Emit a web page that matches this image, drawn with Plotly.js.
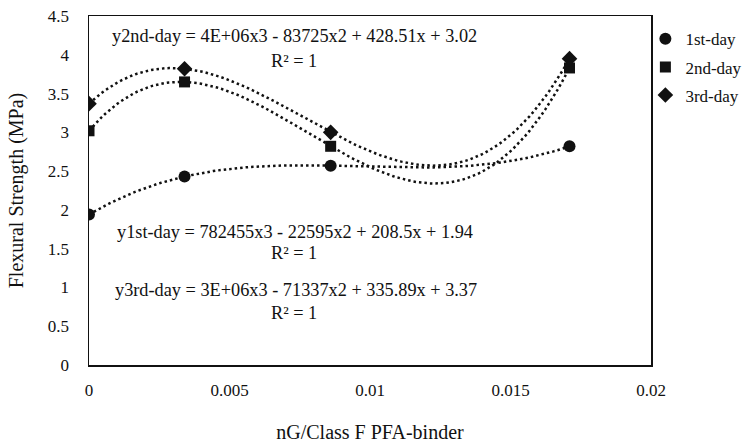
<!DOCTYPE html>
<html><head><meta charset="utf-8">
<script src="https://cdn.plot.ly/plotly-3.0.1.min.js"></script>
<style>html,body{margin:0;padding:0;background:#fff}</style>
</head><body>
<div id="chart" style="width:745px;height:443px"></div>
<script>
// Data
const xValues = [0, 0.0034, 0.0086, 0.0171];
const day1 = [1.94, 2.43, 2.57, 2.82];
const day2 = [3.02, 3.65, 2.82, 3.83];
const day3 = [3.37, 3.82, 3.00, 3.95];
const seriesNames = ['1st-day', '2nd-day', '3rd-day'];
const equations = [
  'y1st-day = 782455x3 - 22595x2 + 208.5x + 1.94',
  'y2nd-day = 4E+06x3 - 83725x2 + 428.51x + 3.02',
  'y3rd-day = 3E+06x3 - 71337x2 + 335.89x + 3.37'
];
const rSquared = 'R² = 1';

// Cubic polynomial trendline (exact fit through the 4 points, R² = 1)
function cubicTrend(xs, ys, n) {
  const xmin = Math.min(...xs), xmax = Math.max(...xs);
  const tx = [], ty = [];
  for (let k = 0; k <= n; k++) {
    const x = xmin + (xmax - xmin) * k / n;
    let y = 0;
    for (let i = 0; i < xs.length; i++) {
      let l = 1;
      for (let j = 0; j < xs.length; j++) if (j !== i) l *= (x - xs[j]) / (xs[i] - xs[j]);
      y += ys[i] * l;
    }
    tx.push(x); ty.push(y);
  }
  return {x: tx, y: ty};
}

const font = 'Times New Roman';
const symbols = ['circle', 'square', 'diamond'];
const sizes = [12, 11, 12];
const allData = [day1, day2, day3];
const traces = [];
allData.forEach((ys, i) => {
  const t = cubicTrend(xValues, ys, 120);
  traces.push({x: t.x, y: t.y, mode: 'lines', showlegend: false, hoverinfo: 'skip',
    line: {color: '#111', width: 2.5, dash: '2.5px,3px'}});
});
allData.forEach((ys, i) => {
  traces.push({x: xValues, y: ys, mode: 'markers', name: seriesNames[i], legendgroup: 'g' + i,
    marker: {symbol: symbols[i], size: sizes[i], color: '#111'}});
});

const W = 745, H = 443, L = 89, R = 94, T = 16, B = 78;
const pw = W - L - R, ph = H - T - B;
function px(x) { return (x - L) / pw; }
function py(y) { return (H - B - y) / ph; }
function ann(text, x, y) {
  return {text: text, xref: 'paper', yref: 'paper', x: px(x), y: py(y), xanchor: 'center', yanchor: 'middle',
    showarrow: false, font: {family: font, size: 18.3, color: '#111'}};
}
const annotations = [
  ann(equations[1], 294, 36), ann(rSquared, 294, 61),
  ann(equations[0], 295, 232), ann(rSquared, 294, 253),
  ann(equations[2], 296, 290), ann(rSquared, 294, 313)
];

const layout = {
  width: W, height: H,
  margin: {l: L, r: R, t: T, b: B, autoexpand: false},
  paper_bgcolor: '#fff', plot_bgcolor: '#fff',
  font: {family: font, size: 17, color: '#111'},
  showlegend: true,
  legend: {x: 0.99, y: 0.985, xanchor: 'left', yanchor: 'top', font: {family: font, size: 17},
    itemwidth: 30, tracegroupgap: 3, bgcolor: 'rgba(0,0,0,0)'},
  xaxis: {range: [0, 0.02], tickvals: [0, 0.005, 0.01, 0.015, 0.02], ticktext: ['0', '0.005', '0.01', '0.015', '0.02'],
    showgrid: false, zeroline: false, showline: true, mirror: true, linecolor: '#111', linewidth: 1.5,
    ticks: '', ticklabelstandoff: 9, tickfont: {family: font, size: 17},
    title: {text: 'nG/Class F PFA-binder', font: {family: font, size: 20}, standoff: 26}},
  yaxis: {range: [0, 4.5], tickvals: [0, 0.5, 1, 1.5, 2, 2.5, 3, 3.5, 4, 4.5],
    ticktext: ['0', '0.5', '1', '1.5', '2', '2.5', '3', '3.5', '4', '4.5'],
    showgrid: false, zeroline: false, showline: true, mirror: true, linecolor: '#111', linewidth: 1.5,
    ticks: '', ticklabelstandoff: 15, tickfont: {family: font, size: 17},
    title: {text: 'Flexural Strength (MPa)', font: {family: font, size: 20}, standoff: 19}},
  annotations: annotations
};
Plotly.newPlot('chart', traces, layout, {displayModeBar: false, staticPlot: true});
</script>
</body></html>
